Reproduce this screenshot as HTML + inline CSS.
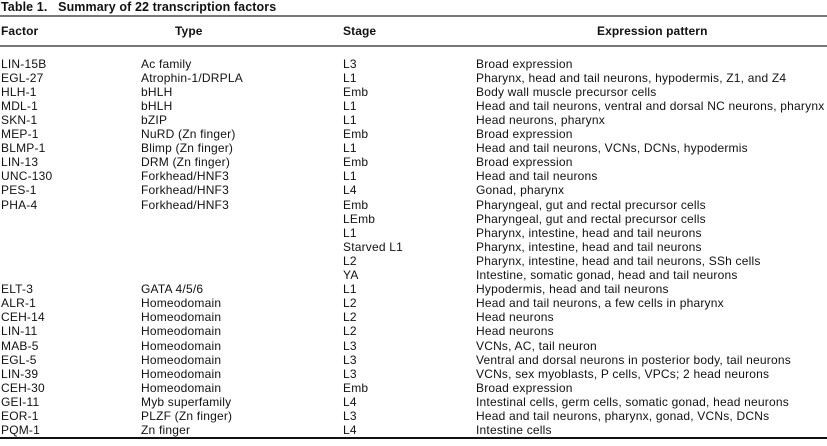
<!DOCTYPE html>
<html><head><meta charset="utf-8"><style>
body{margin:0;width:827px;height:446px;background:#fff;overflow:hidden;font-family:"Liberation Sans",sans-serif;color:#111;position:relative}
.t{position:absolute;white-space:nowrap;font-size:12px;letter-spacing:0.2px;line-height:14px}
.h{font-weight:bold;font-size:12px;letter-spacing:0.1px}
.ln{position:absolute;left:0;width:827px}
</style></head><body>
<div class="t h" style="left:1px;top:0px;font-size:12.5px">Table 1.&nbsp;&nbsp;&nbsp;Summary of 22 transcription factors</div>
<div class="ln" style="top:15px;height:2px;background:#777"></div>
<div class="t h" style="left:1px;top:24px">Factor</div>
<div class="t h" style="left:175px;top:24px">Type</div>
<div class="t h" style="left:343px;top:24px">Stage</div>
<div class="t h" style="left:597px;top:24px">Expression pattern</div>
<div class="ln" style="top:45px;height:2px;background:#777"></div>
<div class="ln" style="top:437px;height:2px;background:#111"></div>
<div id="rows"></div>
<script>
var d=[["LIN-15B","Ac family","L3","Broad expression"],["EGL-27","Atrophin-1/DRPLA","L1","Pharynx, head and tail neurons, hypodermis, Z1, and Z4"],["HLH-1","bHLH","Emb","Body wall muscle precursor cells"],["MDL-1","bHLH","L1","Head and tail neurons, ventral and dorsal NC neurons, pharynx"],["SKN-1","bZIP","L1","Head neurons, pharynx"],["MEP-1","NuRD (Zn finger)","Emb","Broad expression"],["BLMP-1","Blimp (Zn finger)","L1","Head and tail neurons, VCNs, DCNs, hypodermis"],["LIN-13","DRM (Zn finger)","Emb","Broad expression"],["UNC-130","Forkhead/HNF3","L1","Head and tail neurons"],["PES-1","Forkhead/HNF3","L4","Gonad, pharynx"],["PHA-4","Forkhead/HNF3","Emb","Pharyngeal, gut and rectal precursor cells"],["","","LEmb","Pharyngeal, gut and rectal precursor cells"],["","","L1","Pharynx, intestine, head and tail neurons"],["","","Starved L1","Pharynx, intestine, head and tail neurons"],["","","L2","Pharynx, intestine, head and tail neurons, SSh cells"],["","","YA","Intestine, somatic gonad, head and tail neurons"],["ELT-3","GATA 4/5/6","L1","Hypodermis, head and tail neurons"],["ALR-1","Homeodomain","L2","Head and tail neurons, a few cells in pharynx"],["CEH-14","Homeodomain","L2","Head neurons"],["LIN-11","Homeodomain","L2","Head neurons"],["MAB-5","Homeodomain","L3","VCNs, AC, tail neuron"],["EGL-5","Homeodomain","L3","Ventral and dorsal neurons in posterior body, tail neurons"],["LIN-39","Homeodomain","L3","VCNs, sex myoblasts, P cells, VPCs; 2 head neurons"],["CEH-30","Homeodomain","Emb","Broad expression"],["GEI-11","Myb superfamily","L4","Intestinal cells, germ cells, somatic gonad, head neurons"],["EOR-1","PLZF (Zn finger)","L3","Head and tail neurons, pharynx, gonad, VCNs, DCNs"],["PQM-1","Zn finger","L4","Intestine cells"]];
var xs=[1,141,343,476],h="";
d.forEach(function(r,i){var y=56.5+i*14.1;r.forEach(function(c,j){if(c)h+='<div class="t" style="left:'+xs[j]+'px;top:'+y+'px">'+c+'</div>';});});
document.getElementById("rows").innerHTML=h;
</script>
</body></html>
